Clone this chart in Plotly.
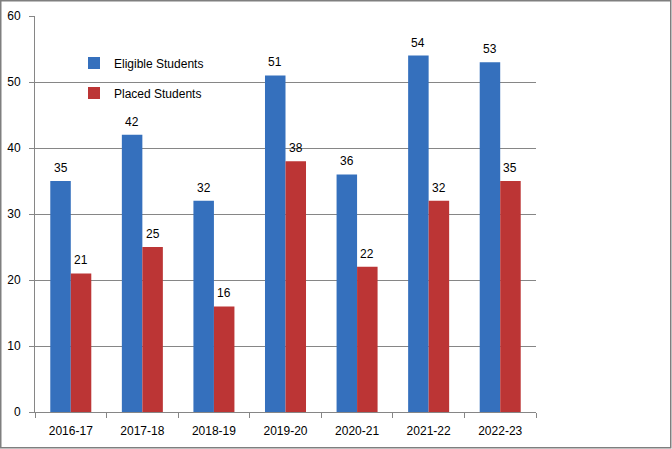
import plotly.graph_objects as go

years = ["2016-17", "2017-18", "2018-19", "2019-20", "2020-21", "2021-22", "2022-23"]
eligible = [35, 42, 32, 51, 36, 54, 53]
placed = [21, 25, 16, 38, 22, 32, 35]
y_ticks = [0, 10, 20, 30, 40, 50, 60]

W, H = 672, 449
L, R, T, B = 35, 136, 16, 37
PW, PH = W - L - R, H - T - B

FONT = "Liberation Sans"
GRID = "#868686"
BLUE = "#3570bd"
RED = "#bc3535"

fig = go.Figure()
fig.add_trace(go.Bar(name="Eligible Students", x=years, y=eligible,
                     marker=dict(color=BLUE, line=dict(width=0)), legend="legend"))
fig.add_trace(go.Bar(name="Placed Students", x=years, y=placed,
                     marker=dict(color=RED, line=dict(width=0)), legend="legend2"))

# data labels
for series, shift in ((eligible, -10.25), (placed, 10.25)):
    for cat, v in zip(years, series):
        fig.add_annotation(x=cat, y=v, text=str(v), showarrow=False,
                           xshift=shift, yshift=13, yanchor="middle",
                           font=dict(family=FONT, size=12, color="#000000"))

# outer chart border
def px_x(p):
    return (p - L) / PW
def px_y(p):
    return (H - B - p) / PH

fig.add_shape(type="rect", xref="paper", yref="paper",
              x0=px_x(0.75), x1=px_x(W - 1.25), y0=px_y(H - 1.25), y1=px_y(0.75),
              line=dict(color="#7f7f7f", width=1.5), fillcolor="rgba(0,0,0,0)", layer="above")

legend_common = dict(xanchor="left", yanchor="middle", bgcolor="rgba(0,0,0,0)",
                     font=dict(family=FONT, size=12, color="#000000"),
                     itemwidth=30, borderwidth=0)

fig.update_layout(
    width=W, height=H,
    margin=dict(l=L, r=R, t=T, b=B, pad=0),
    paper_bgcolor="white", plot_bgcolor="white",
    barmode="group", bargap=0.427, bargroupgap=0,
    font=dict(family=FONT, size=12, color="#000000"),
    showlegend=True,
    legend=dict(x=px_x(74), y=px_y(63), **legend_common),
    legend2=dict(x=px_x(74), y=px_y(93), **legend_common),
    xaxis=dict(type="category", showline=True, linecolor=GRID, linewidth=1,
               ticks="outside", tickson="boundaries", ticklen=5, tickcolor=GRID,
               showgrid=False, ticklabelstandoff=8, automargin=False,
               tickfont=dict(family=FONT, size=12, color="#000000")),
    yaxis=dict(range=[0, 60], tickvals=y_ticks, showline=True, linecolor=GRID, linewidth=1,
               ticks="outside", ticklen=5, tickcolor=GRID, showgrid=True, gridcolor=GRID,
               gridwidth=1, zeroline=False, ticklabelstandoff=6, automargin=False,
               tickfont=dict(family=FONT, size=12, color="#000000")),
)

fig.write_html("out.html", config={"displayModeBar": False},
               post_script="document.body.style.margin='0';document.body.style.overflow='hidden';")
